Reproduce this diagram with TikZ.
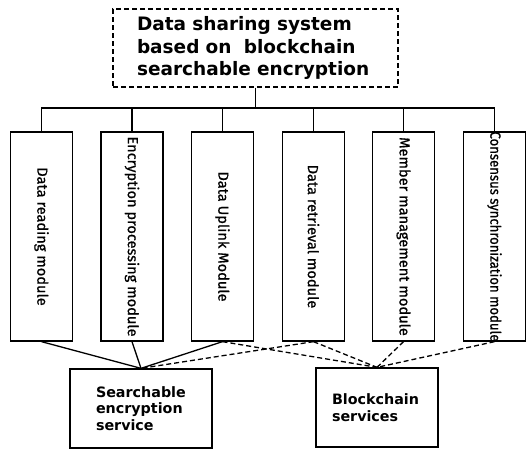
\documentclass[tikz,border=0pt]{standalone}
\usepackage{fontspec}
\setmainfont{DejaVu Sans}
\newfontfamily\modfont[FakeBold=0.8]{Fira Sans}
\begin{document}
\begin{tikzpicture}[x=1pt,y=-1pt,
	module/.style={draw,line width=1.3pt,minimum width=62pt,minimum height=209pt,inner sep=0pt,font=\modfont\fontsize{14.6}{16}\selectfont},
	service/.style={draw,line width=1.3pt,text width=90pt,align=left,inner sep=0pt,minimum height=79pt,font=\bfseries\fontsize{14.3}{16.5}\selectfont},
	link/.style={line width=1.3pt},
	dlink/.style={line width=1.3pt,dash pattern=on 5pt off 3pt}]
		\useasboundingbox (0,0) rectangle (530,450);
		\node[draw,line width=1.3pt,dash pattern=on 5pt off 3pt,minimum width=285pt,minimum height=78pt,text width=237pt,align=left,inner sep=0pt,font=\bfseries\fontsize{18.5}{22.5}\selectfont] (title) at (255.5,48) {Data sharing system\\based on\ \ blockchain\\searchable encryption};
		\coordinate (bus) at (255.5,108);
		
		\node[module] (read) at (41.5,236.5) {\rotatebox{-90}{Data reading module}};
		\node[module] (encr) at (132,236.5) {\rotatebox{-90}{Encryption processing module}};
		\node[module] (upl) at (222.5,236.5) {\rotatebox{-90}{Data Uplink Module}};
		\node[module] (retr) at (313.5,236.5) {\rotatebox{-90}{Data retrieval module}};
		\node[module] (memb) at (403.5,236.5) {\rotatebox{-90}{Member management module}};
		\node[module] (cons) at (494.5,236.5) {\rotatebox{-90}{\makebox[200pt]{\scalebox{0.9}[1]{Consensus synchronization module}}}};
		
		\node[service,minimum width=142pt] (search) at (141,408.5) {Searchable\\encryption\\service};
		\node[service,minimum width=122pt] (chain) at (377,407.5) {Blockchain\\services};
		
		\draw[link] (title.south) -- (bus);
		\draw[link] (read.north) |- (bus) (encr.north) |- (bus) (upl.north) |- (bus);
		\draw[link] (retr.north) |- (bus) (memb.north) |- (bus) (cons.north) |- (bus);
		
		\draw[link] (read.south) -- (search.north);
		\draw[link] (encr.south) -- (search.north);
		\draw[link] (upl.south) -- (search.north);
		\draw[dlink] (retr.south) -- (search.north);
		\draw[dlink] (upl.south) -- (chain.north);
		\draw[dlink] (retr.south) -- (chain.north);
		\draw[dlink] (memb.south) -- (chain.north);
		\draw[dlink] (cons.south) -- (chain.north);
\end{tikzpicture}
\end{document}
